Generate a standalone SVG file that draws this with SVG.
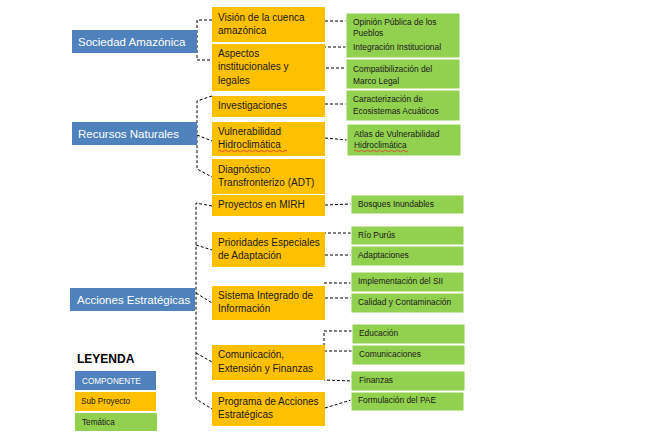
<svg xmlns="http://www.w3.org/2000/svg" width="664" height="439" viewBox="0 0 664 439">
  <style>
    .comp { fill: #4F81BD; }
    .sub { fill: #FFC000; }
    .tem { fill: #92D050; stroke: #FFFFFF; stroke-width: 1; }
    .tc { font-family: "Liberation Sans", Arial, sans-serif; font-size: 11.5px; fill: #FFFFFF; }
    .ts { font-family: "Liberation Sans", Arial, sans-serif; font-size: 10px; fill: #1A1A1A; }
    .tt { font-family: "Liberation Sans", Arial, sans-serif; font-size: 8.4px; fill: #1A1A1A; }
    .tl { font-family: "Liberation Sans", Arial, sans-serif; font-size: 8.2px; }
    .link { fill: none; stroke: #000000; stroke-width: 1; stroke-dasharray: 3 2; }
    .spell { fill: none; stroke: #E03030; stroke-width: 0.8; }
  </style>
  <rect width="664" height="439" fill="#FFFFFF"/>

  <!-- connectors -->
  <g id="connectors">
    <!-- Sociedad Amazónica -->
    <path class="link" d="M212,20 H197 V60 H212"/>
    <!-- Recursos Naturales -->
    <path class="link" d="M212,96 L197,101 V169 L212,177"/>
    <path class="link" d="M197,135 L212,141"/>
    <!-- Acciones Estratégicas -->
    <path class="link" d="M212,206 L196,203 V399 L212,409"/>
    <path class="link" d="M196,245 L212,250"/>
    <path class="link" d="M196,293 L212,303"/>
    <path class="link" d="M196,353 L212,362"/>
    <!-- sub-project to theme links -->
    <path class="link" d="M325,21 H346"/>
    <path class="link" d="M346,47 H324 V68 H346"/>
    <path class="link" d="M325,104 H346"/>
    <path class="link" d="M325,138 L347,140"/>
    <path class="link" d="M325,205 L351,204"/>
    <path class="link" d="M351,233 H324 V255 H351"/>
    <path class="link" d="M324,283 H351"/>
    <path class="link" d="M325,298 H351"/>
    <path class="link" d="M352,331 H324 V380 L351,381"/>
    <path class="link" d="M324,351 H352"/>
    <path class="link" d="M325,408 L351,400"/>
  </g>

  <!-- components -->
  <g id="sociedad-amazonica">
    <rect class="comp" x="72" y="30" width="125" height="23"/>
    <text class="tc" x="78" y="46">Sociedad Amazónica</text>
  </g>
  <g id="recursos-naturales">
    <rect class="comp" x="72" y="122" width="125" height="23"/>
    <text class="tc" x="78" y="138">Recursos Naturales</text>
  </g>
  <g id="acciones-estrategicas">
    <rect class="comp" x="70" y="288" width="125" height="23"/>
    <text class="tc" x="77" y="304">Acciones Estratégicas</text>
  </g>

  <!-- sub projects -->
  <g id="vision-cuenca">
    <rect class="sub" x="212" y="7" width="113" height="35"/>
    <text class="ts" x="218" y="21">Visión de la cuenca</text>
    <text class="ts" x="218" y="34">amazónica</text>
  </g>
  <g id="aspectos-institucionales">
    <rect class="sub" x="212" y="44" width="113" height="47"/>
    <text class="ts" x="218" y="57">Aspectos</text>
    <text class="ts" x="218" y="70">institucionales y</text>
    <text class="ts" x="218" y="84">legales</text>
  </g>
  <g id="investigaciones">
    <rect class="sub" x="212" y="96" width="113" height="21"/>
    <text class="ts" x="218" y="109">Investigaciones</text>
  </g>
  <g id="vulnerabilidad">
    <rect class="sub" x="212" y="122" width="113" height="34"/>
    <text class="ts" x="218" y="135">Vulnerabilidad</text>
    <text class="ts" x="218" y="148">Hidroclimática</text>
    <path class="spell" d="M218,151 q1.5,-1.5 3,0 t3,0 t3,0 t3,0 t3,0 t3,0 t3,0 t3,0 t3,0 t3,0 t3,0 t3,0 t3,0 t3,0 t3,0 t3,0 t3,0 t3,0 t3,0 t3,0 t3,0 t3,0 t3,0"/>
  </g>
  <g id="diagnostico">
    <rect class="sub" x="212" y="159" width="113" height="35"/>
    <text class="ts" x="218" y="173">Diagnóstico</text>
    <text class="ts" x="218" y="186">Transfronterizo  (ADT)</text>
  </g>
  <g id="proyectos-mirh">
    <rect class="sub" x="212" y="195" width="113" height="21"/>
    <text class="ts" x="218" y="208">Proyectos en MIRH</text>
  </g>
  <g id="prioridades">
    <rect class="sub" x="212" y="232" width="113" height="35"/>
    <text class="ts" x="218" y="246">Prioridades Especiales</text>
    <text class="ts" x="218" y="259">de Adaptación</text>
  </g>
  <g id="sistema-integrado">
    <rect class="sub" x="212" y="286" width="113" height="34"/>
    <text class="ts" x="218" y="299">Sistema Integrado de</text>
    <text class="ts" x="218" y="312">Información</text>
  </g>
  <g id="comunicacion">
    <rect class="sub" x="212" y="345" width="113" height="35"/>
    <text class="ts" x="218" y="358">Comunicación,</text>
    <text class="ts" x="218" y="372">Extensión y Finanzas</text>
  </g>
  <g id="programa-acciones">
    <rect class="sub" x="212" y="392" width="113" height="34"/>
    <text class="ts" x="218" y="405">Programa de Acciones</text>
    <text class="ts" x="218" y="418">Estratégicas</text>
  </g>

  <!-- themes -->
  <g id="opinion-integracion">
    <rect class="tem" x="346" y="13" width="114" height="45"/>
    <text class="tt" x="353" y="25">Opinión Pública de los</text>
    <text class="tt" x="353" y="36">Pueblos</text>
    <text class="tt" x="353" y="50">Integración Institucional</text>
  </g>
  <g id="compatibilizacion">
    <rect class="tem" x="346" y="59" width="114" height="30"/>
    <text class="tt" x="353" y="72">Compatibilización del</text>
    <text class="tt" x="353" y="84">Marco Legal</text>
  </g>
  <g id="caracterizacion">
    <rect class="tem" x="346" y="90" width="114" height="31"/>
    <text class="tt" x="353" y="102">Caracterización de</text>
    <text class="tt" x="353" y="114">Ecosistemas Acuáticos</text>
  </g>
  <g id="atlas">
    <rect class="tem" x="347" y="124" width="114" height="32"/>
    <text class="tt" x="354" y="137">Atlas de Vulnerabilidad</text>
    <text class="tt" x="354" y="148">Hidroclimática</text>
    <path class="spell" d="M354,151 q1.5,-1.5 3,0 t3,0 t3,0 t3,0 t3,0 t3,0 t3,0 t3,0 t3,0 t3,0 t3,0 t3,0 t3,0 t3,0 t3,0 t3,0 t3,0 t3,0"/>
  </g>
  <g id="bosques">
    <rect class="tem" x="351" y="195" width="113" height="19"/>
    <text class="tt" x="358" y="207">Bosques Inundables</text>
  </g>
  <g id="rio-purus">
    <rect class="tem" x="351" y="226" width="113" height="19"/>
    <text class="tt" x="358" y="238">Río Purús</text>
  </g>
  <g id="adaptaciones">
    <rect class="tem" x="351" y="246" width="113" height="20"/>
    <text class="tt" x="358" y="258">Adaptaciones</text>
  </g>
  <g id="implementacion">
    <rect class="tem" x="351" y="272" width="113" height="20"/>
    <text class="tt" x="358" y="284">Implementación del SII</text>
  </g>
  <g id="calidad">
    <rect class="tem" x="351" y="293" width="113" height="20"/>
    <text class="tt" x="358" y="305">Calidad y Contaminación</text>
  </g>
  <g id="educacion">
    <rect class="tem" x="352" y="324" width="113" height="20"/>
    <text class="tt" x="359" y="336">Educación</text>
  </g>
  <g id="comunicaciones">
    <rect class="tem" x="352" y="345" width="113" height="20"/>
    <text class="tt" x="359" y="357">Comunicaciones</text>
  </g>
  <g id="finanzas">
    <rect class="tem" x="351" y="371" width="114" height="20"/>
    <text class="tt" x="359" y="383">Finanzas</text>
  </g>
  <g id="formulacion-pae">
    <rect class="tem" x="351" y="392" width="113" height="19"/>
    <text class="tt" x="358" y="403">Formulación del PAE</text>
  </g>

  <!-- legend -->
  <g id="leyenda">
    <text x="77" y="363" font-family="Liberation Sans, Arial, sans-serif" font-size="12" font-weight="bold" fill="#000000">LEYENDA</text>
    <rect class="comp" x="75" y="371" width="81" height="19"/>
    <text class="tl" x="82" y="384" fill="#FFFFFF">COMPONENTE</text>
    <rect class="sub" x="75" y="392" width="81" height="19"/>
    <text class="tl" x="81" y="404" fill="#1A1A1A">Sub Proyecto</text>
    <rect fill="#92D050" x="75" y="413" width="82" height="18"/>
    <text class="tl" x="82" y="425" fill="#1A1A1A">Temática</text>
  </g>
</svg>
